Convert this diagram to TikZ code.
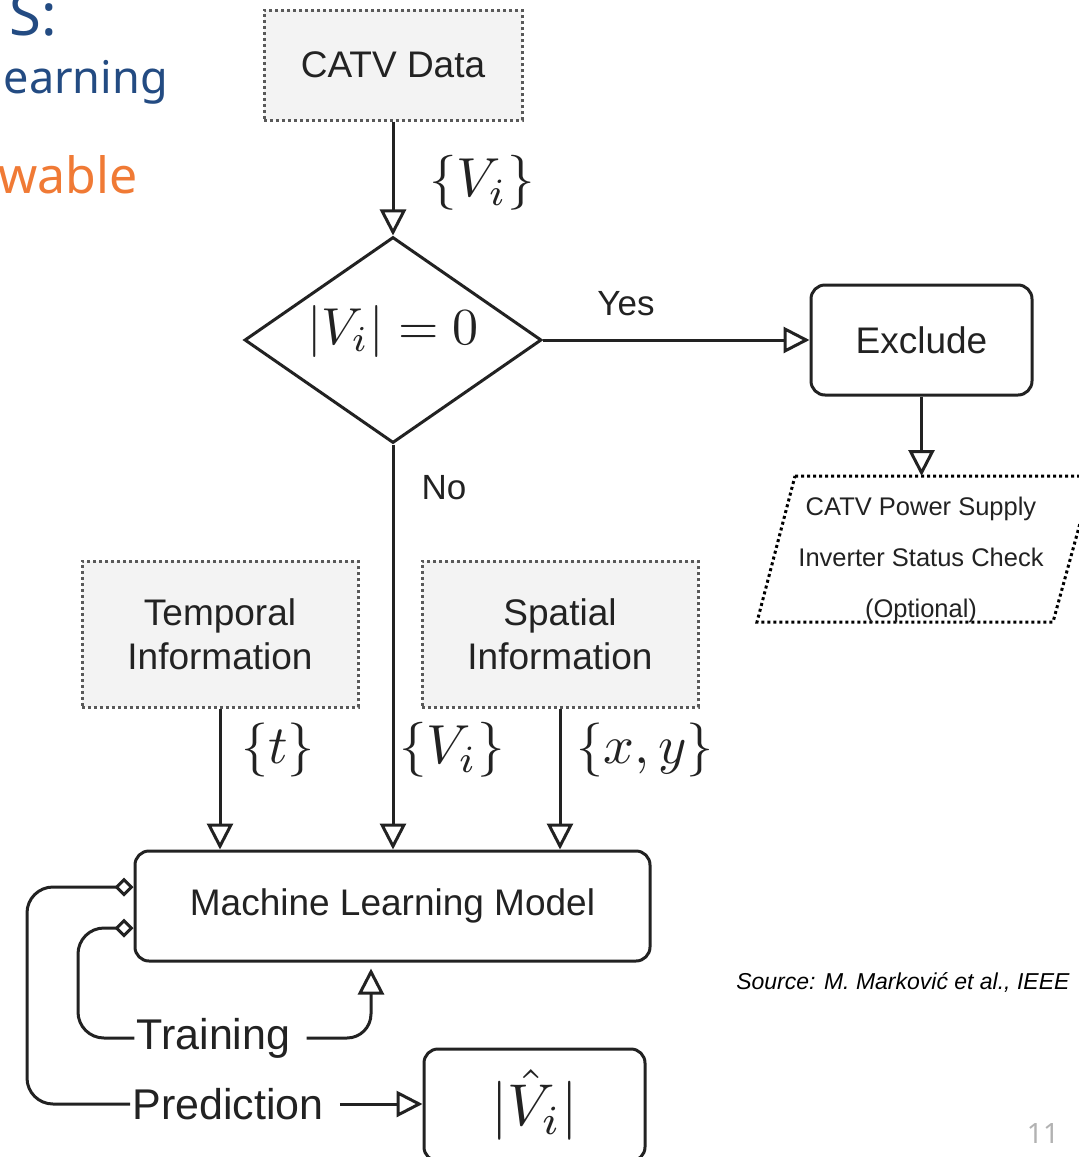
\documentclass[tikz,border=0pt]{standalone}
\usepackage{amsmath}
\usepackage{graphicx}
\usepackage{fontspec}
\setmainfont{Liberation Sans}
\newfontfamily\titlefont{Noto Sans}
\usetikzlibrary{arrows.meta,shapes.geometric,calc}
\definecolor{ink}{HTML}{222222}
\definecolor{titleblue}{HTML}{234B82}
\definecolor{titleorange}{HTML}{F07A35}
\definecolor{boxgray}{HTML}{F3F3F3}
\newcommand\bigmath[2]{\scalebox{#1}{\normalsize$#2$}}
\begin{document}
\begin{tikzpicture}[x=1pt,y=-1pt,
  proc/.style={draw=ink, line width=3pt, rounded corners=14pt, minimum height=110pt,
    font=\fontsize{37}{44}\selectfont, text=ink},
  dotbox/.style={draw=black!65, line width=3pt, dash pattern=on 3pt off 3pt, fill=boxgray,
    font=\fontsize{37}{44}\selectfont, align=center, text=ink},
  conn/.style={draw=ink, line width=3pt, -{Triangle[open,length=26pt,width=26pt]}},
  fbline/.style={draw=ink, line width=3pt, {Diamond[open,length=19pt,width=19pt]}-},
  mlab/.style={text=ink, inner sep=0pt},
  lbl/.style={font=\fontsize{35}{42}\selectfont, text=ink},
  big/.style={font=\fontsize{43}{50}\selectfont, text=ink, inner sep=2pt}]
\useasboundingbox (0,0) rectangle (1079,1157);
\clip (0,0) rectangle (1079,1157);

% title fragments
\node[anchor=base east, inner sep=0pt, text=titleblue, font=\titlefont\fontsize{58}{66}\selectfont] (ts) at (57,35) {S:};
\node[anchor=base east, inner sep=0pt, text=titleblue, font=\titlefont\fontsize{45}{54}\selectfont] (tl) at (168,93) {earning};
\node[anchor=base east, inner sep=0pt, text=titleorange, font=\titlefont\fontsize{50}{58}\selectfont] (tw) at (138,193) {wable};

% nodes
\node[dotbox, minimum width=258pt, minimum height=110pt] (catv) at (393,65) {CATV Data};
\node[draw=ink, line width=3pt, diamond, minimum width=297pt, minimum height=206pt, inner sep=0pt] (dec) at (393,340) {};
\node[mlab] (dlab) at (393,331) {\bigmath{5.2}{|V_i| = 0}};
\node[proc, minimum width=221pt] (excl) at (921.5,340) {Exclude};
\coordinate (pstop) at (921.5,476);
\draw[draw=black, line width=3pt, dash pattern=on 3pt off 3pt] (795,476) -- (1093,476) -- (1053,622) -- (757,622) -- cycle;
\node[font=\fontsize{25.5}{51}\selectfont, align=center, text=ink] (psup) at (921,560) {CATV Power Supply\\Inverter Status Check\\(Optional)};

\node[dotbox, minimum width=276pt, minimum height=146pt] (temp) at (220,634) {Temporal\\Information};
\node[dotbox, minimum width=276pt, minimum height=146pt] (spat) at (560,634) {Spatial\\Information};

\node[proc, minimum width=515pt] (ml) at (392.5,906) {Machine Learning Model};
\node[proc, minimum width=221pt, minimum height=112pt] (vhat) at (534.5,1105) {\bigmath{5.9}{|\hat{V}_i|}};

\node[big] (train) at (213.5,1038) {Training};
\node[big] (pred) at (228,1104) {Prediction};

% connectors
\draw[conn] (catv) -- (dec);
\node[mlab] (lv1) at (482,183) {\bigmath{5.5}{\{V_i\}}};
\draw[conn] (dec) -- (excl);
\node[lbl] (yes) at (626,304) {Yes};
\draw[conn] (excl.south) -- (pstop);
\draw[conn] (dec.south) -- (dec.south |- ml.north);
\node[lbl] (no) at (444,488) {No};
\draw[conn] (temp) -- (temp |- ml.north);
\draw[conn] (spat) -- (spat |- ml.north);
\node[mlab] (lt) at (278,750) {\bigmath{5.4}{\{t\}}};
\node[mlab] (lv2) at (452,750) {\bigmath{5.5}{\{V_i\}}};
\node[mlab] (lxy) at (645,750) {\bigmath{5.4}{\{x,y\}}};

\draw[fbline, rounded corners=26pt] ([yshift=19pt]ml.west) -- ++(-106.5,0) |- (pred.west);
\draw[fbline, rounded corners=26pt] ([yshift=-22pt]ml.west) -- ++(-55.5,0) |- (train.west);
\draw[conn, rounded corners=24pt, shorten <=14pt] (train.east) -| ([xshift=-21.5pt,yshift=-6pt]ml.south);
\draw[conn, shorten <=14pt] (pred.east) -- (pred.east -| vhat.west);

% footer
\node[anchor=east, font=\itshape\fontsize{23}{28}\selectfont, text=black] (src) at (1073,982) {Source: M. Marković et al., IEEE};
\node[font=\titlefont\fontsize{28}{32}\selectfont, text=black!30] (pg) at (1043,1133) {11};
\end{tikzpicture}
\end{document}
